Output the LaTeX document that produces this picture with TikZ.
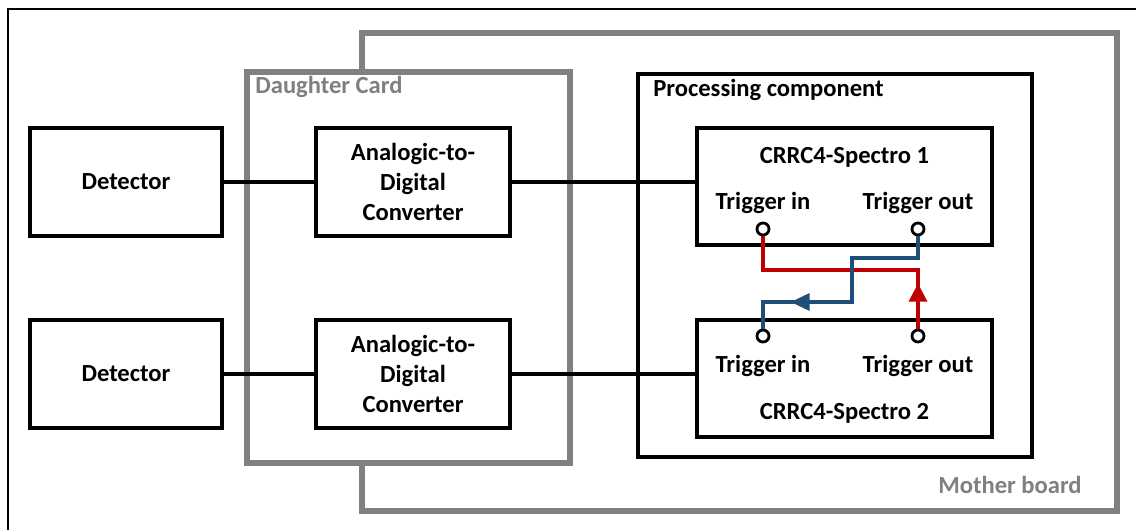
\documentclass[tikz,border=0pt]{standalone}
\usepackage{fontspec}
\setmainfont{Carlito}
\usetikzlibrary{arrows.meta,decorations.markings}

\definecolor{boardgray}{RGB}{128,128,128}
\definecolor{trigred}{RGB}{192,0,0}
\definecolor{trigblue}{RGB}{31,78,121}

\tikzset{
  block/.style={draw, line width=2.6pt, align=center, font=\bfseries\fontsize{14}{17}\selectfont, inner sep=0pt},
  board/.style={draw=boardgray, line width=2.9pt},
  boardlabel/.style={text=boardgray, font=\bfseries\fontsize{14}{17}\selectfont, inner sep=0pt},
  wire/.style={line width=2pt},
  port/.style={circle, draw, fill=white, line width=1.6pt, minimum size=0.24cm, inner sep=0pt},
  trigger/.style={line width=2pt, postaction={decorate}},
}

\begin{document}
\begin{tikzpicture}[x=0.02cm, y=-0.02cm]
\useasboundingbox (0,0) rectangle (1136,530);
\draw[line width=1.2pt] (1145,9) -- (8,9) -- (8,540);

% boards
\draw[board] (362,33) rectangle (1117,511);
\node[boardlabel, anchor=east] (mother) at (1082,485) {Mother board};
\draw[board, fill=white] (247,72) rectangle (570,463);
\node[boardlabel, anchor=west] (daughter) at (255,87) {Daughter Card};
\draw[line width=2.6pt, fill=white] (638,74) rectangle (1032,457);
\node[block, draw=none, anchor=west] (proc) at (651,90) {Processing component};

% detectors and converters
\node[block, minimum width=3.84cm, minimum height=2.16cm] (det1) at (126,182) {Detector};
\node[block, minimum width=3.84cm, minimum height=2.16cm] (det2) at (126,374) {Detector};
\node[block, minimum width=3.88cm, minimum height=2.16cm] (adc1) at (413,182) {Analogic-to-\\Digital\\Converter};
\node[block, minimum width=3.88cm, minimum height=2.16cm] (adc2) at (413,374) {Analogic-to-\\Digital\\Converter};

% spectro blocks
\node[block, minimum width=5.9cm, minimum height=2.34cm] (spec1) at (844.5,186.5) {};
\node[block, minimum width=5.9cm, minimum height=2.34cm] (spec2) at (844.5,378.5) {};
\node[block, draw=none] (name1) at (844.5,157) {CRRC4-Spectro 1};
\node[block, draw=none] (name2) at (844.5,413) {CRRC4-Spectro 2};
\node[block, draw=none] (lin1) at (763,203) {Trigger in};
\node[block, draw=none] (lout1) at (918,203) {Trigger out};
\node[block, draw=none] (lin2) at (763,366) {Trigger in};
\node[block, draw=none] (lout2) at (918,366) {Trigger out};

\draw[wire] (det1) -- (adc1);
\draw[wire] (det2) -- (adc2);
\draw[wire] (adc1.east) -- (spec1.west |- adc1.east);
\draw[wire] (adc2.east) -- (spec2.west |- adc2.east);

% trigger chain
\coordinate (redy) at (0,270);
\coordinate (bluey1) at (0,258);
\coordinate (bluey2) at (0,302);
\coordinate (bluex) at (852,0);
\node[port] (tin1) at (763,229) {};
\node[port] (tout1) at (918,229) {};
\node[port] (tin2) at (763,336) {};
\node[port] (tout2) at (918,336) {};

\draw[trigger, draw=trigred, decoration={markings, mark=at position 0.9cm with {\arrow[trigred]{Triangle[length=0.36cm, width=0.36cm]}}}]
  (tout2) -- (tout2 |- redy) -- (tin1 |- redy) -- (tin1);
\draw[trigger, draw=trigblue, decoration={markings, mark=at position 3.86cm with {\arrow[trigblue]{Triangle[length=0.38cm, width=0.34cm]}}}]
  (tout1) -- (tout1 |- bluey1) -- (bluex |- bluey1) -- (bluex |- bluey2) -- (tin2 |- bluey2) -- (tin2);
\end{tikzpicture}
\end{document}
